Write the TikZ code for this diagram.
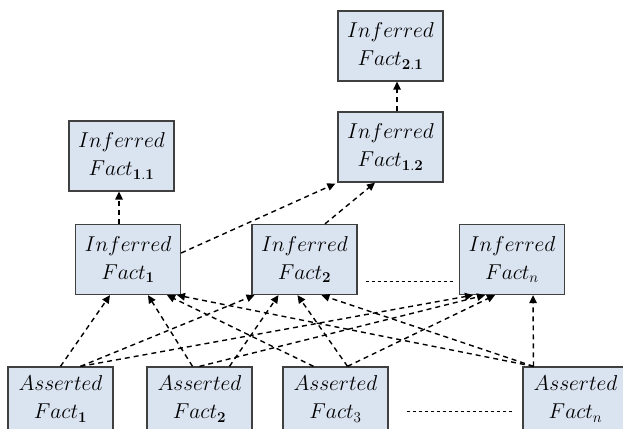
\RequirePackage{fix-cm}
\documentclass[tikz,border=0pt]{standalone}
\usepackage{amsmath}
\usepackage{tikz}
\usetikzlibrary{arrows.meta}

\definecolor{factfill}{RGB}{218,227,240}
\definecolor{factdraw}{RGB}{64,64,64}

\begin{document}
\begin{tikzpicture}[
    x=1pt, y=-1pt,
    font=\fontsize{21.5}{28}\selectfont,
    fact/.style={rectangle, draw=factdraw, line width=1.3pt, fill=factfill, minimum width=105pt, minimum height=70pt, align=center, inner sep=0pt},
    base/.style={fact, minimum height=64pt},
    arrow/.style={-{Triangle[length=8pt,width=7.5pt]}, line width=1.4pt, dash pattern=on 5pt off 4pt, draw=black},
    gap/.style={line width=0.9pt, dash pattern=on 3.5pt off 2.5pt, draw=black}
]
\useasboundingbox (0,0) rectangle (623,428);
\clip (0,0) rectangle (623,428);

% inferred facts
\node[fact] (if21) at (390.5,46) {$Inferred$\\$Fact_{\mathbf{2.1}}$};
\node[fact] (if12) at (390.5,147) {$Inferred$\\$Fact_{\mathbf{1.2}}$};
\node[fact] (if11) at (121.5,156) {$Inferred$\\$Fact_{\mathbf{1.1}}$};
\node[fact] (if1) at (128,259.5) {$Inferred$\\$Fact_{\mathbf{1}}$};
\node[fact] (if2) at (304.5,259.5) {$Inferred$\\$Fact_{\mathbf{2}}$};
\node[fact] (ifn) at (512,259.5) {$Inferred$\\$Fact_{n}$};

% asserted facts
\node[base] (af1) at (60.5,399) {$Asserted$\\$Fact_{\mathbf{1}}$};
\node[base] (af2) at (199.5,399) {$Asserted$\\$Fact_{\mathbf{2}}$};
\node[base] (af3) at (335.5,399) {$Asserted$\\$Fact_{3}$};
\node[base] (afn) at (575.5,399) {$Asserted$\\$Fact_{n}$};

% upper inferences
\draw[arrow] ([xshift=-9pt]if1.north) -- ([xshift=-2.5pt]if11.south);
\draw[arrow] ([yshift=6.5pt]if1.east) -- ([xshift=-2pt,yshift=-1pt]if12.south west);
\draw[arrow] ([xshift=20.5pt]if2.north) -- ([xshift=-15.5pt]if12.south);
\draw[arrow] ([xshift=6.5pt]if12.north) -- ([xshift=6.5pt]if21.south);

% asserted -> inferred
\draw[arrow] (af1.north) -- ([xshift=-18pt]if1.south);
\draw[arrow] ([xshift=20pt]af1.north) -- ([xshift=-50pt]if2.south);
\draw[arrow] ([xshift=20pt]af1.north) -- ([xshift=-39pt]ifn.south);

\draw[arrow] ([xshift=-7pt]af2.north) -- ([xshift=20pt]if1.south);
\draw[arrow] ([xshift=30pt]af2.north) -- ([xshift=-26pt]if2.south);
\draw[arrow] (af2.north) -- ([xshift=-27pt]ifn.south);

\draw[arrow] ([xshift=-22pt]af3.north) -- ([xshift=39pt]if1.south);
\draw[arrow] ([xshift=12pt]af3.north) -- ([xshift=-7pt]if2.south);
\draw[arrow] ([xshift=12pt]af3.north) -- ([xshift=-17pt]ifn.south);

\draw[arrow] ([xshift=-42pt]afn.north) -- ([xshift=49pt]if1.south);
\draw[arrow] ([xshift=-42pt]afn.north) -- ([xshift=17pt]if2.south);
\draw[arrow] ([xshift=-42pt]afn.north) -- ([xshift=21pt]ifn.south);

% omitted facts
\draw[gap] ([xshift=8pt,yshift=-21.5pt]if2.east) -- ([xshift=-6pt,yshift=-21.5pt]ifn.west);
\draw[gap] ([xshift=18pt,yshift=-12pt]af3.east) -- ([xshift=-10pt,yshift=-12pt]afn.west);

\end{tikzpicture}
\end{document}
